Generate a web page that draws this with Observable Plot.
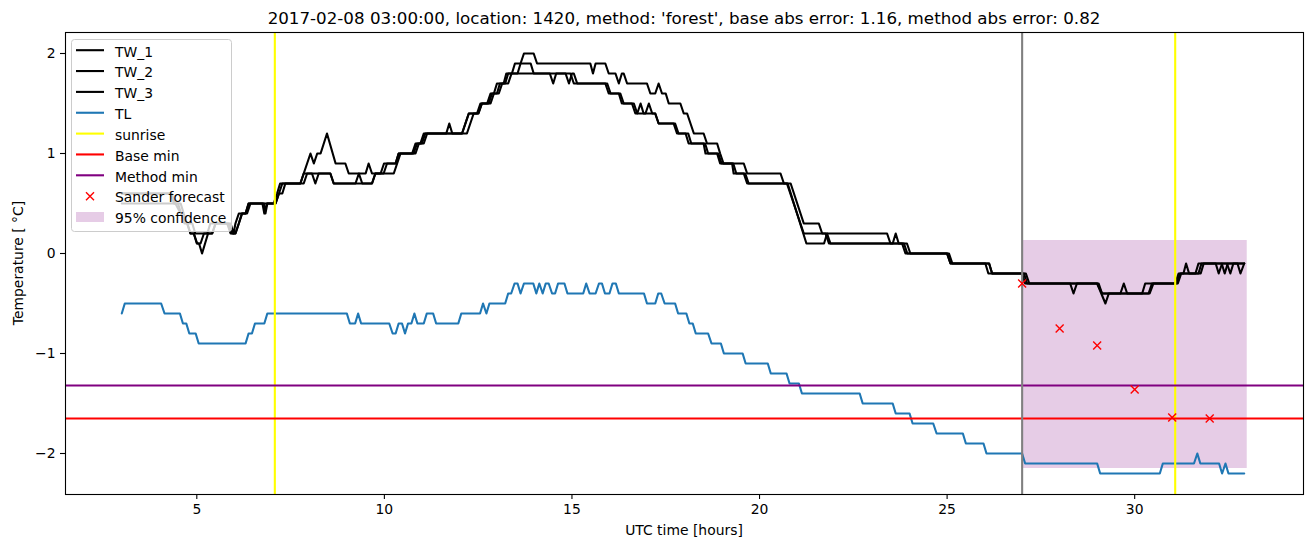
<!DOCTYPE html>
<html><head><meta charset="utf-8">
<script src="https://cdn.jsdelivr.net/npm/d3@7"></script>
<script src="https://cdn.jsdelivr.net/npm/@observablehq/plot@0.6"></script>
<style>body{margin:0;background:#fff;} svg{display:block;}</style>
</head><body><div id="chart"></div>
<script>
// [UTC hour, temperature] vertices
const TW_1 = [[3.0,0.6],[4.33,0.6],[4.42,0.5],[4.5,0.5],[4.58,0.4],[4.67,0.3],[4.75,0.3],[4.83,0.2],[4.92,0.2],[5.0,0.1],[5.06,0.1],[5.14,0.0],[5.22,0.1],[5.3,0.2],[5.41,0.2],[5.5,0.3],[5.81,0.3],[5.9,0.2],[6.03,0.2],[6.12,0.3],[6.2,0.4],[6.3,0.4],[6.38,0.5],[6.79,0.5],[6.83,0.4],[6.88,0.5],[7.05,0.5],[7.14,0.6],[7.22,0.7],[7.76,0.7],[7.85,0.8],[7.94,0.9],[8.03,1.0],[8.12,0.9],[8.21,1.0],[8.3,1.0],[8.47,1.2],[8.7,0.9],[8.96,0.9],[9.05,0.8],[9.5,0.8],[9.58,0.9],[9.67,0.8],[9.98,0.8],[10.07,0.9],[10.3,0.9],[10.38,1.0],[10.74,1.0],[10.83,1.1],[10.96,1.1],[11.05,1.2],[11.65,1.2],[11.73,1.3],[11.81,1.2],[12.07,1.2],[12.16,1.3],[12.25,1.4],[12.47,1.4],[12.56,1.5],[12.74,1.5],[12.83,1.6],[12.92,1.6],[13.0,1.7],[13.18,1.7],[13.25,1.8],[13.4,1.8],[13.48,1.9],[13.63,1.9],[13.72,2.0],[13.98,2.0],[14.07,1.9],[15.49,1.9],[15.56,1.8],[15.63,1.9],[15.89,1.9],[15.98,1.8],[16.16,1.8],[16.25,1.7],[16.33,1.8],[16.38,1.8],[16.47,1.7],[17.0,1.7],[17.09,1.6],[17.22,1.6],[17.31,1.7],[17.4,1.6],[17.5,1.6],[17.58,1.5],[17.89,1.5],[17.98,1.4],[18.07,1.4],[18.16,1.3],[18.25,1.2],[18.51,1.2],[18.6,1.1],[18.87,1.1],[18.95,1.0],[19.04,0.9],[19.58,0.9],[19.67,0.8],[20.56,0.8],[20.65,0.7],[20.83,0.7],[21.18,0.3],[21.58,0.3],[21.67,0.2],[23.4,0.2],[23.49,0.1],[23.85,0.1],[23.94,0.0],[25.0,0.0],[25.09,-0.1],[26.02,-0.1],[26.1,-0.2],[27.0,-0.2],[27.08,-0.3],[28.28,-0.3],[28.37,-0.4],[28.46,-0.3],[29.0,-0.3],[29.22,-0.5],[29.31,-0.4],[30.2,-0.4],[30.28,-0.3],[31.08,-0.3],[31.17,-0.2],[31.3,-0.2],[31.37,-0.1],[31.45,-0.2],[31.7,-0.2],[31.78,-0.1],[32.16,-0.1],[32.24,-0.2],[32.33,-0.1],[32.92,-0.1]];
const TW_2 = [[3.0,0.5],[4.43,0.5],[4.57,0.4],[4.74,0.3],[4.83,0.2],[4.92,0.2],[5.01,0.1],[5.1,0.1],[5.19,0.2],[5.28,0.2],[5.36,0.3],[5.9,0.3],[5.98,0.2],[6.03,0.3],[6.12,0.4],[6.34,0.4],[6.43,0.5],[7.1,0.5],[7.19,0.6],[7.28,0.7],[7.76,0.7],[7.85,0.8],[8.07,0.8],[8.16,0.7],[8.25,0.8],[8.56,0.8],[8.65,0.7],[9.67,0.7],[9.76,0.8],[9.9,0.8],[9.99,0.9],[10.3,0.9],[10.38,1.0],[10.78,1.0],[10.87,1.1],[11.0,1.1],[11.09,1.2],[12.07,1.2],[12.16,1.3],[12.25,1.4],[12.51,1.4],[12.6,1.5],[12.78,1.5],[12.87,1.6],[13.0,1.6],[13.08,1.7],[13.22,1.7],[13.3,1.8],[13.55,1.8],[13.63,1.9],[13.9,1.9],[13.98,1.8],[14.41,1.8],[14.5,1.7],[14.58,1.8],[14.83,1.8],[14.92,1.7],[15.0,1.8],[15.05,1.8],[15.14,1.7],[15.89,1.7],[15.98,1.6],[16.25,1.6],[16.33,1.5],[16.6,1.5],[16.69,1.4],[16.74,1.4],[16.83,1.5],[16.91,1.4],[16.96,1.4],[17.05,1.5],[17.14,1.4],[17.22,1.4],[17.31,1.3],[17.71,1.3],[17.8,1.2],[18.03,1.2],[18.11,1.1],[18.51,1.1],[18.56,1.0],[18.87,1.0],[18.95,0.9],[19.27,0.9],[19.31,0.8],[19.58,0.8],[19.67,0.7],[20.73,0.7],[21.18,0.2],[21.76,0.2],[21.85,0.1],[23.55,0.1],[23.63,0.2],[23.71,0.1],[23.8,0.1],[23.89,0.0],[25.05,0.0],[25.14,-0.1],[26.12,-0.1],[26.2,-0.2],[27.05,-0.2],[27.13,-0.3],[29.04,-0.3],[29.13,-0.4],[29.62,-0.4],[29.71,-0.3],[29.8,-0.4],[30.37,-0.4],[30.46,-0.3],[31.12,-0.3],[31.21,-0.2],[31.76,-0.2],[31.84,-0.1],[32.32,-0.1],[32.4,-0.2],[32.48,-0.1],[32.74,-0.1],[32.82,-0.2],[32.92,-0.1]];
const TW_3 = [[3.0,0.6],[4.3,0.6],[4.39,0.5],[4.57,0.5],[4.65,0.4],[4.74,0.3],[4.88,0.3],[4.96,0.2],[5.41,0.2],[5.5,0.3],[5.85,0.3],[5.94,0.2],[6.03,0.2],[6.12,0.3],[6.21,0.4],[6.3,0.4],[6.38,0.5],[6.75,0.5],[6.8,0.4],[6.87,0.5],[7.1,0.5],[7.19,0.6],[7.28,0.6],[7.36,0.7],[7.85,0.7],[7.94,0.8],[8.56,0.8],[8.65,0.7],[9.23,0.7],[9.32,0.8],[9.41,0.7],[9.67,0.7],[9.76,0.8],[10.25,0.8],[10.34,0.9],[10.43,1.0],[10.83,1.0],[10.92,1.1],[11.05,1.1],[11.14,1.2],[12.2,1.2],[12.29,1.3],[12.38,1.4],[12.5,1.4],[12.6,1.5],[12.83,1.5],[12.92,1.6],[13.05,1.6],[13.14,1.7],[13.3,1.7],[13.39,1.8],[14.96,1.8],[15.05,1.7],[15.94,1.7],[16.03,1.6],[16.29,1.6],[16.38,1.5],[16.65,1.5],[16.74,1.4],[17.22,1.4],[17.31,1.3],[17.75,1.3],[17.84,1.2],[18.1,1.2],[18.18,1.1],[18.55,1.1],[18.63,1.0],[18.9,1.0],[18.99,0.9],[19.3,0.9],[19.38,0.8],[19.62,0.8],[19.71,0.7],[20.75,0.7],[21.25,0.1],[21.72,0.1],[21.8,0.2],[21.89,0.1],[23.93,0.1],[24.02,0.0],[25.0,0.0],[25.09,-0.1],[26.12,-0.1],[26.2,-0.2],[27.1,-0.2],[27.19,-0.3],[29.0,-0.3],[29.13,-0.4],[30.4,-0.4],[30.5,-0.3],[31.15,-0.3],[31.24,-0.2],[31.62,-0.2],[31.7,-0.1],[32.46,-0.1],[32.55,-0.2],[32.63,-0.1],[32.92,-0.1]];
const TL = [[3.0,-0.6],[3.08,-0.5],[4.05,-0.5],[4.14,-0.6],[4.55,-0.6],[4.63,-0.7],[4.72,-0.7],[4.8,-0.8],[4.97,-0.8],[5.05,-0.9],[6.3,-0.9],[6.38,-0.8],[6.47,-0.8],[6.55,-0.7],[6.8,-0.7],[6.88,-0.6],[9.0,-0.6],[9.08,-0.7],[9.22,-0.7],[9.3,-0.6],[9.38,-0.7],[10.13,-0.7],[10.22,-0.8],[10.3,-0.8],[10.38,-0.7],[10.47,-0.7],[10.55,-0.8],[10.63,-0.7],[10.72,-0.7],[10.8,-0.6],[10.88,-0.7],[11.05,-0.7],[11.13,-0.6],[11.3,-0.6],[11.38,-0.7],[11.97,-0.7],[12.05,-0.6],[12.55,-0.6],[12.63,-0.5],[12.72,-0.6],[12.8,-0.5],[13.22,-0.5],[13.3,-0.4],[13.38,-0.4],[13.47,-0.3],[13.55,-0.3],[13.63,-0.4],[13.72,-0.3],[13.97,-0.3],[14.05,-0.4],[14.13,-0.3],[14.22,-0.4],[14.3,-0.3],[14.38,-0.3],[14.47,-0.4],[14.55,-0.4],[14.63,-0.3],[14.8,-0.3],[14.88,-0.4],[15.3,-0.4],[15.38,-0.3],[15.47,-0.4],[15.63,-0.4],[15.72,-0.3],[15.8,-0.3],[15.88,-0.4],[16.0,-0.4],[16.08,-0.3],[16.17,-0.3],[16.25,-0.4],[16.92,-0.4],[17.0,-0.5],[17.22,-0.5],[17.3,-0.4],[17.38,-0.4],[17.47,-0.5],[17.75,-0.5],[17.83,-0.6],[18.05,-0.6],[18.13,-0.7],[18.22,-0.7],[18.3,-0.8],[18.63,-0.8],[18.72,-0.9],[18.97,-0.9],[19.05,-1.0],[19.55,-1.0],[19.63,-1.1],[20.22,-1.1],[20.3,-1.2],[20.72,-1.2],[20.8,-1.3],[21.05,-1.3],[21.13,-1.4],[22.67,-1.4],[22.75,-1.5],[23.55,-1.5],[23.63,-1.6],[24.0,-1.6],[24.08,-1.7],[24.63,-1.7],[24.72,-1.8],[25.42,-1.8],[25.5,-1.9],[25.97,-1.9],[26.05,-2.0],[27.0,-2.0],[27.08,-2.1],[29.0,-2.1],[29.08,-2.2],[30.67,-2.2],[30.75,-2.1],[31.58,-2.1],[31.67,-2.0],[31.75,-2.1],[32.25,-2.1],[32.33,-2.2],[32.42,-2.1],[32.5,-2.2],[32.92,-2.2]];
const sunriseHours = [7.08, 31.08];
const forecastStart = [27];
const baseMin = [-1.65];
const methodMin = [-1.32];
const forecastHours = [27, 28, 29, 30, 31, 32];
const forecastValues = [-0.30, -0.75, -0.92, -1.36, -1.64, -1.65];
const confStart = 27, confEnd = 33, confLow = -2.15, confHigh = 0.13;
const xTicks = [5, 10, 15, 20, 25, 30];
const yTicks = [-2, -1, 0, 1, 2];
const legendLabels = ["TW_1", "TW_2", "TW_3", "TL", "sunrise", "Base min", "Method min", "Sander forecast", "95% confidence"];
const titleText = "2017-02-08 03:00:00, location: 1420, method: 'forest', base abs error: 1.16, method abs error: 0.82";
const xLabel = "UTC time [hours]";
const yLabel = "Temperature [ °C]";

const rows = pts => pts.map(([t, v]) => ({t, v}));
const forecast = forecastHours.map((t, i) => ({t, v: forecastValues[i]}));
const conf = [{x1: confStart, x2: confEnd, y1: confLow, y2: confHigh}];
const LW = 2.1;
const fmt = d => (d < 0 ? "\u2212" : "") + Math.abs(d);

const plot = Plot.plot({
  width: 1313, height: 547,
  marginLeft: 65, marginRight: 10, marginTop: 32, marginBottom: 53,
  x: {domain: [1.5, 34.5]},
  y: {domain: [-2.41, 2.21]},
  style: {fontFamily: "DejaVu Sans", fontSize: "13.9px", background: "white", color: "black"},
  marks: [
    Plot.rect(conf, {x1: "x1", x2: "x2", y1: "y1", y2: "y2", fill: "purple", fillOpacity: 0.2}),
    Plot.line(rows(TW_1), {x: "t", y: "v", stroke: "black", strokeWidth: LW}),
    Plot.line(rows(TW_2), {x: "t", y: "v", stroke: "black", strokeWidth: LW}),
    Plot.line(rows(TW_3), {x: "t", y: "v", stroke: "black", strokeWidth: LW}),
    Plot.line(rows(TL), {x: "t", y: "v", stroke: "#1f77b4", strokeWidth: LW}),
    Plot.ruleX(sunriseHours, {stroke: "yellow", strokeWidth: LW}),
    Plot.ruleY(baseMin, {stroke: "red", strokeWidth: LW}),
    Plot.ruleY(methodMin, {stroke: "purple", strokeWidth: LW}),
    Plot.ruleX(forecastStart, {stroke: "gray", strokeWidth: LW}),
    Plot.dot(forecast, {x: "t", y: "v", symbol: "times", r: 3.7, stroke: "red", strokeWidth: 1.4}),
    Plot.frame({stroke: "black", strokeWidth: 1.1}),
    Plot.axisX({ticks: xTicks, tickFormat: fmt, tickSize: 5, tickPadding: 5, label: null, strokeWidth: 1.1}),
    Plot.axisY({ticks: yTicks, tickFormat: fmt, tickSize: 5, tickPadding: 5, label: null, strokeWidth: 1.1})
  ]
});
document.getElementById("chart").appendChild(plot);

const svg = d3.select(plot);
svg.append("text").attr("x", 684).attr("y", 24).attr("text-anchor", "middle")
  .style("font-size", "16.7px").attr("fill", "black").text(titleText);
svg.append("text").attr("x", 684).attr("y", 535).attr("text-anchor", "middle")
  .style("font-size", "13.9px").attr("fill", "black").text(xLabel);
svg.append("text").attr("transform", "translate(23,263) rotate(-90)").attr("text-anchor", "middle")
  .style("font-size", "13.9px").attr("fill", "black").text(yLabel);

// legend
const lg = svg.append("g");
lg.append("rect").attr("x", 71.5).attr("y", 39.5).attr("width", 160).attr("height", 192).attr("rx", 3)
  .attr("fill", "white").attr("fill-opacity", 0.8).attr("stroke", "#cccccc").attr("stroke-width", 1);
const colors = ["black", "black", "black", "#1f77b4", "yellow", "red", "purple"];
const y0 = 50.2, step = 20.85;
legendLabels.forEach((lab, i) => {
  const y = y0 + i * step;
  if (i < 7) {
    lg.append("line").attr("x1", 76).attr("x2", 104).attr("y1", y).attr("y2", y)
      .attr("stroke", colors[i]).attr("stroke-width", LW);
  } else if (i === 7) {
    const r = 4;
    lg.append("path").attr("d", `M${90-r},${y-r}L${90+r},${y+r}M${90-r},${y+r}L${90+r},${y-r}`)
      .attr("stroke", "red").attr("stroke-width", 1.4);
  } else {
    lg.append("rect").attr("x", 76).attr("y", y - 5).attr("width", 28).attr("height", 10)
      .attr("fill", "purple").attr("fill-opacity", 0.2);
  }
  lg.append("text").attr("x", 115).attr("y", y + 6.3).attr("text-anchor", "start").style("font-size", "13.9px")
    .attr("fill", "black").text(lab);
});
</script>
</body></html>
